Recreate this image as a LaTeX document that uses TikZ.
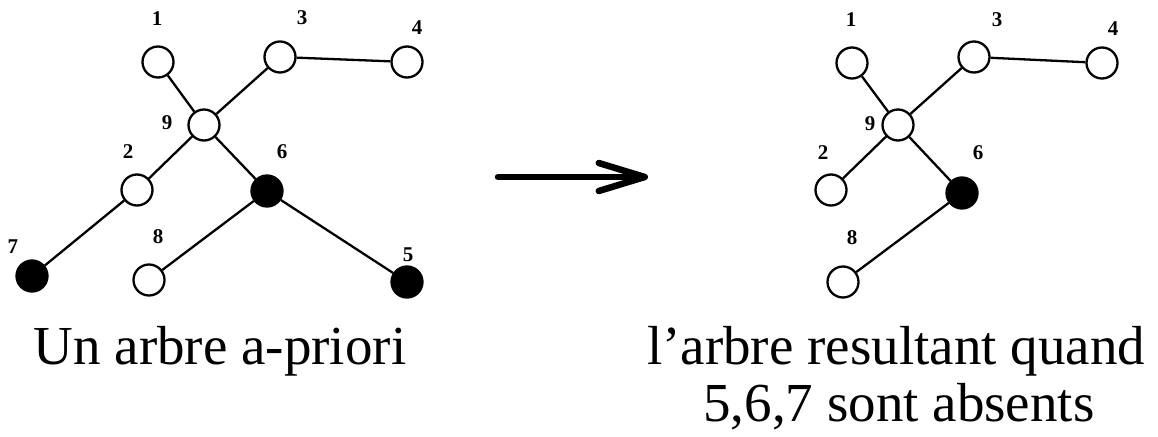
\documentclass[tikz,border=0pt]{standalone}
\usepackage{fontspec}
\setmainfont{Liberation Serif}
\usetikzlibrary{arrows.meta}
\begin{document}
\begin{tikzpicture}[x=1pt,y=-1pt,
  vtx/.style={circle,draw,line width=2.3pt,minimum size=31pt,inner sep=0pt,fill=white},
  blk/.style={vtx,fill=black},
  lbl/.style={font=\fontsize{21}{21}\selectfont\bfseries,inner sep=0pt},
  edge/.style={line width=2.3pt},
  captxt/.style={font=\fontsize{55}{57}\selectfont,inner sep=0pt,anchor=base},
  bigarrow/.style={line width=6.5pt,line cap=round,-{Straight Barb[length=46pt,width=28pt,round]}}]
\useasboundingbox (0,0) rectangle (1158,436);
% left tree
\node[vtx] (a1) at (158,62) {};
\node[vtx] (a3) at (280,57) {};
\node[vtx] (a4) at (407,62) {};
\node[vtx] (a9) at (204,125) {};
\node[vtx] (a2) at (137,190) {};
\node[blk] (a6) at (267,191) {};
\node[blk] (a7) at (32,276) {};
\node[vtx] (a8) at (149,280) {};
\node[blk] (a5) at (407,282) {};
\draw[edge] (a1) -- (a9);
\draw[edge] (a3) -- (a9);
\draw[edge] (a3) -- (a4);
\draw[edge] (a9) -- (a2);
\draw[edge] (a9) -- (a6);
\draw[edge] (a2) -- (a7);
\draw[edge] (a6) -- (a8);
\draw[edge] (a6) -- (a5);
\node[lbl] (la1) at (157,19) {1};
\node[lbl] (la3) at (302,18) {3};
\node[lbl] (la4) at (417,28) {4};
\node[lbl] (la9) at (167,123) {9};
\node[lbl] (la2) at (128,152) {2};
\node[lbl] (la6) at (282,152) {6};
\node[lbl] (la8) at (158,237) {8};
\node[lbl] (la7) at (13,247) {7};
\node[lbl] (la5) at (408,255) {5};
% arrow
\coordinate (s) at (498,177);
\coordinate (e) at (648,177);
\draw[bigarrow] (s) -- (e);
% right tree
\node[vtx] (b1) at (852,63) {};
\node[vtx] (b3) at (974,57) {};
\node[vtx] (b4) at (1102,63) {};
\node[vtx] (b9) at (898,125) {};
\node[vtx] (b2) at (831,190) {};
\node[blk] (b6) at (962,193) {};
\node[vtx] (b8) at (843,282) {};
\draw[edge] (b1) -- (b9);
\draw[edge] (b3) -- (b9);
\draw[edge] (b3) -- (b4);
\draw[edge] (b9) -- (b2);
\draw[edge] (b9) -- (b6);
\draw[edge] (b6) -- (b8);
\node[lbl] (lb1) at (851,20) {1};
\node[lbl] (lb3) at (997,20) {3};
\node[lbl] (lb4) at (1113,29) {4};
\node[lbl] (lb9) at (870,124) {9};
\node[lbl] (lb2) at (823,153) {2};
\node[lbl] (lb6) at (978,153) {6};
\node[lbl] (lb8) at (852,238) {8};
% captions
\node[captxt] (c1) at (220,364) {Un arbre a-priori};
\node[captxt] (c2) at (896,364) {l’arbre resultant quand};
\node[captxt] (c3) at (899,421) {5,6,7 sont absents};
\end{tikzpicture}
\end{document}
